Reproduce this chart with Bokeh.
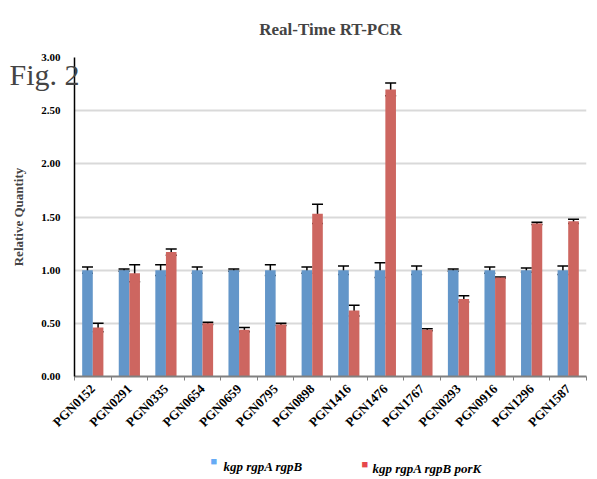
import math
from bokeh.plotting import figure
from bokeh.models import (ColumnDataSource, Range1d, FixedTicker, Whisker, TeeHead,
                          CustomJSTickFormatter, Title)
from bokeh.embed import file_html
from bokeh.resources import INLINE

genes = ["PGN0152", "PGN0291", "PGN0335", "PGN0654", "PGN0659", "PGN0795", "PGN0898",
         "PGN1416", "PGN1476", "PGN1767", "PGN0293", "PGN0916", "PGN1296", "PGN1587"]
ctrl_vals = [1.00, 1.00, 1.00, 1.00, 1.00, 1.00, 1.00, 1.00, 1.00, 1.00, 1.00, 1.00, 1.00, 1.00]
ctrl_err = [0.03, 0.01, 0.05, 0.03, 0.01, 0.05, 0.03, 0.04, 0.07, 0.04, 0.01, 0.03, 0.02, 0.04]
pork_vals = [0.46, 0.97, 1.17, 0.50, 0.44, 0.49, 1.53, 0.62, 2.70, 0.44, 0.73, 0.93, 1.44, 1.46]
pork_err = [0.04, 0.08, 0.03, 0.01, 0.02, 0.01, 0.09, 0.05, 0.06, 0.01, 0.03, 0.005, 0.01, 0.02]
series_names = ["kgp rgpA rgpB", "kgp rgpA rgpB porK"]
y_ticks = [0.0, 0.5, 1.0, 1.5, 2.0, 2.5, 3.0]
chart_title = "Real-Time RT-PCR"
fig_label = "Fig. 2"

SERIF = "Liberation Serif"
BLUE = "#6396c9"
RED = "#cd6660"
LEG_BLUE = "#66abf5"
LEG_RED = "#e6474b"

n = len(genes)
centers = [i + 0.5 for i in range(n)]
bw = 0.29
off = 0.145

p = figure(width=597, height=479, output_backend="svg", toolbar_location=None,
           x_range=Range1d(0, n), y_range=Range1d(0, 3.0),
           min_border_left=74, min_border_top=57, min_border_right=11, min_border_bottom=103)
p.outline_line_color = None
p.xgrid.grid_line_color = None
p.ygrid.grid_line_color = "#d9d9d9"
p.ygrid.grid_line_width = 2
p.ygrid.ticker = FixedTicker(ticks=y_ticks)

src_c = ColumnDataSource(dict(x=[c - off for c in centers], top=ctrl_vals,
                              up=[v + e for v, e in zip(ctrl_vals, ctrl_err)],
                              lo=[v - e for v, e in zip(ctrl_vals, ctrl_err)]))
src_r = ColumnDataSource(dict(x=[c + off for c in centers], top=pork_vals,
                              up=[v + e for v, e in zip(pork_vals, pork_err)],
                              lo=[v - e for v, e in zip(pork_vals, pork_err)]))

p.vbar(x="x", top="top", bottom=0, width=bw, source=src_c, fill_color=BLUE, line_color=None)
p.vbar(x="x", top="top", bottom=0, width=bw, source=src_r, fill_color=RED, line_color=None)

for src in (src_c, src_r):
    w = Whisker(base="x", upper="up", lower="lo", source=src, line_color="black", line_width=1.5,
                upper_head=TeeHead(size=11, line_color="black", line_width=1.5),
                lower_head=TeeHead(size=11, line_color="black", line_width=1.5))
    p.add_layout(w)

# y axis
p.yaxis.ticker = FixedTicker(ticks=y_ticks)
p.yaxis.formatter = CustomJSTickFormatter(code="return tick.toFixed(2);")
p.yaxis.major_label_text_font = SERIF
p.yaxis.major_label_text_font_style = "bold"
p.yaxis.major_label_text_font_size = "11px"
p.yaxis.major_label_text_color = "black"
p.yaxis.major_tick_out = 0
p.yaxis.major_tick_in = 0
p.yaxis.minor_tick_out = 0
p.yaxis.minor_tick_in = 0
p.yaxis.major_label_standoff = 14
p.yaxis.axis_line_color = "black"
p.yaxis.axis_line_width = 1.5
p.yaxis.axis_label = "Relative Quantity"
p.yaxis.axis_label_text_font = SERIF
p.yaxis.axis_label_text_font_style = "bold"
p.yaxis.axis_label_text_font_size = "13px"
p.yaxis.axis_label_standoff = 12

# x axis
p.xaxis.ticker = FixedTicker(ticks=centers, minor_ticks=list(range(n + 1)))
p.xaxis.major_label_overrides = {c: g for c, g in zip(centers, genes)}
p.xaxis.major_label_orientation = math.pi / 4
p.xaxis.major_label_text_font = SERIF
p.xaxis.major_label_text_font_style = "bold"
p.xaxis.major_label_text_font_size = "13px"
p.xaxis.major_label_text_color = "black"
p.xaxis.major_label_standoff = 6
p.xaxis.major_tick_out = 0
p.xaxis.major_tick_in = 0
p.xaxis.minor_tick_out = 4
p.xaxis.minor_tick_in = 0
p.xaxis.minor_tick_line_color = "#808080"
p.xaxis.axis_line_color = "#808080"
p.xaxis.axis_line_width = 2
# blank spacer label pushes the key row down
p.xaxis.axis_label = " "
p.xaxis.axis_label_text_font_size = "13px"
p.xaxis.axis_label_standoff = 4

# titles above the frame ("Fig. 2" drops into the frame's top-left corner)
p.add_layout(Title(text="\u00a0\n" + fig_label, align="left", offset=-65, standoff=-66,
                   vertical_align="bottom", text_font=SERIF, text_font_size="30px",
                   text_font_style="normal"), "above")
p.add_layout(Title(text=chart_title, align="center", standoff=30, vertical_align="top",
                   text_font=SERIF, text_font_size="17px", text_font_style="bold"), "above")

# series key below the axis: colour swatches and names on one row
def key_text(txt, x_px, color, size, style, so):
    return Title(text=txt, align="left", offset=x_px - 74, standoff=so,
                 vertical_align="middle", text_font=SERIF, text_font_size=size,
                 text_font_style=style, text_color=color)

p.add_layout(key_text("\u25a0", 210, LEG_BLUE, "11px", "normal", -11), "below")
p.add_layout(key_text("\u25a0", 361, LEG_RED, "11px", "normal", -11), "below")
p.add_layout(key_text(series_names[0], 223, "black", "13px", "bold italic", -15), "below")
p.add_layout(key_text(series_names[1], 372, "black", "13px", "bold italic", -15), "below")

open("out.html", "w").write(file_html(p, INLINE))
